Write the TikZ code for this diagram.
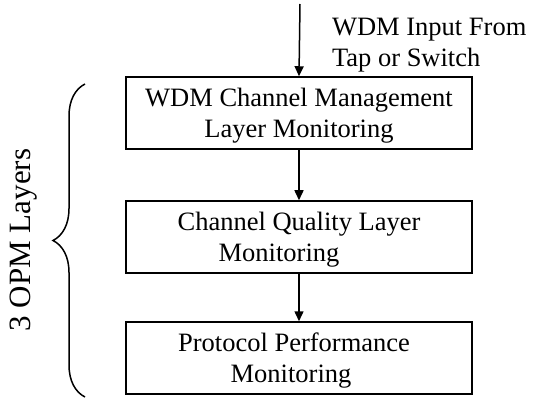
\documentclass[tikz,border=0pt]{standalone}
\usepackage{fontspec}
\setmainfont{Liberation Serif}
\usetikzlibrary{arrows.meta,decorations.pathreplacing}
\newcommand\layertext[1]{\raisebox{-3pt}[\height][\depth]{\begin{tabular}{@{}c@{}}#1\end{tabular}}}
\begin{document}
\begin{tikzpicture}[x=1pt, y=-1pt, line width=1.5pt,
        layer/.style={draw, minimum width=346pt, minimum height=72pt, inner sep=0pt,
            font=\fontsize{26.5}{31}\selectfont},
        flow/.style={-{Triangle[length=10pt, width=9pt]}}]
        % рамка
        \useasboundingbox ( 0, 0 ) rectangle ( 533, 398 );

        % вход
        \coordinate (in) at ( 300, 4 );
        \node (source) [anchor=west, align=left, font=\fontsize{26.5}{31}\selectfont] at ( 328, 45 )
            {WDM Input From\\Tap or Switch};

        % уровни
        \node (wdm) [layer] at ( 299, 113 ) {\layertext{WDM Channel Management\\Layer Monitoring}};
        \node (quality) [layer] at ( 299, 237 ) {\layertext{Channel Quality Layer\\Monitoring\kern 40pt}};
        \node (protocol) [layer] at ( 299, 358 ) {\layertext{Protocol Performance\kern 10pt\\Monitoring\kern 16pt}};

        % стрелки
        \draw [flow] (in) -- (wdm.north);
        \draw [flow] (wdm) -- (quality);
        \draw [flow] (quality) -- (protocol);

        % скобка
        \draw [decorate, decoration={brace, amplitude=32pt}] ( 85, 397 ) -- ( 85, 84 );
        \node (layers) [rotate=90, font=\fontsize{31}{36}\selectfont] at ( 24, 240 ) {3 OPM Layers};
    \end{tikzpicture}
\end{document}
